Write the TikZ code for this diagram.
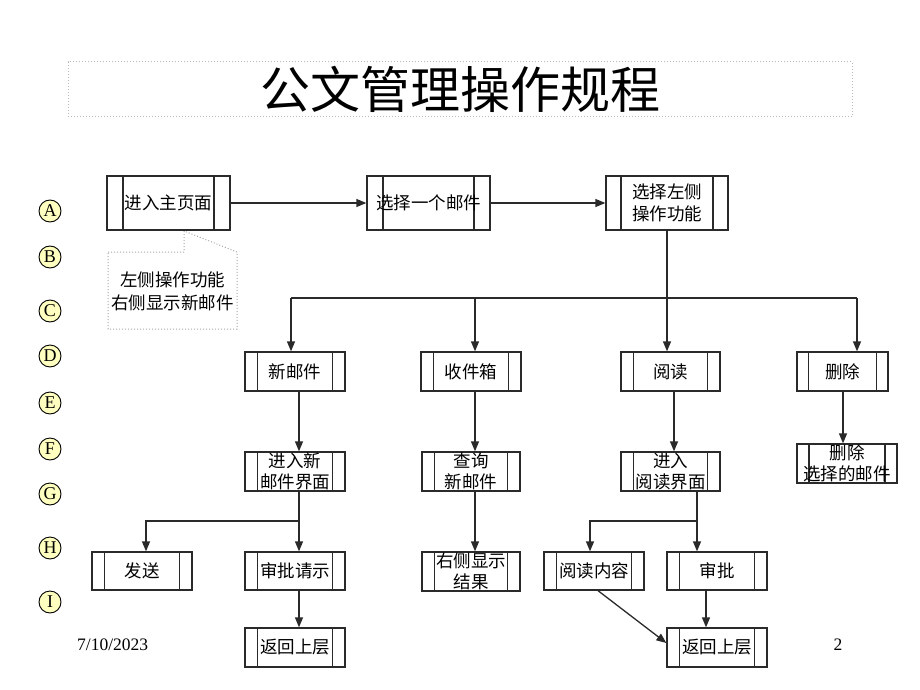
\documentclass[tikz,border=0pt]{standalone}
\usepackage{fontspec}
\setmainfont{Liberation Serif}
\newfontfamily\cjk{Noto Sans CJK SC}
\usetikzlibrary{arrows.meta,calc}
\definecolor{linec}{HTML}{2A2A2A}
\definecolor{circfill}{HTML}{FFFFBF}
\newlength{\barlen}
\tikzset{
  bar/.code={\setlength{\barlen}{#1}},
  bar=12.5pt,
  proc/.style={draw=linec, line width=1.3pt, fill=white, minimum width=100pt,
    minimum height=39pt, inner sep=0pt, align=center,
    font=\cjk\fontsize{17.5}{21.5}\selectfont,
    path picture={\draw[linec, line width=1.3pt]
      ([xshift=\barlen]path picture bounding box.south west) -- ([xshift=\barlen]path picture bounding box.north west)
      ([xshift=-\barlen]path picture bounding box.south east) -- ([xshift=-\barlen]path picture bounding box.north east);}},
  conn/.style={draw=linec, line width=1.3pt},
  arr/.style={conn, -{Triangle[length=10pt,width=8pt]}},
  letter/.style={circle, draw=black, line width=0.9pt, fill=circfill, minimum size=22pt,
    inner sep=0pt, font=\fontsize{18}{18}\selectfont},
}
\begin{document}
\begin{tikzpicture}[x=1pt,y=-1pt]
\useasboundingbox (0,0) rectangle (920,690);

% title
\node[draw=gray!55, dotted, line width=1pt, minimum width=784pt, minimum height=55pt,
      inner sep=0pt, font=\cjk\fontsize{50}{50}\selectfont] (title) at (460,89.5) {公文管理操作规程};

% row letters
\node[letter] (lA) at (50,211) {A};
\node[letter] (lB) at (50,257) {B};
\node[letter] (lC) at (50,311) {C};
\node[letter] (lD) at (50,356) {D};
\node[letter] (lE) at (50,403) {E};
\node[letter] (lF) at (50,449) {F};
\node[letter] (lG) at (50,494) {G};
\node[letter] (lH) at (50,548) {H};
\node[letter] (lI) at (50,602) {I};

% top row
\node[proc, minimum width=123pt, minimum height=54pt, bar=16pt] (n1) at (168.5,203) {进入主页面};
\node[proc, minimum width=123pt, minimum height=54pt, bar=16pt] (n2) at (428.5,203) {选择一个邮件};
\node[proc, minimum width=122pt, minimum height=54pt, bar=15pt] (n3) at (667,203) {选择左侧\\操作功能};

% callout
\node[font=\cjk\fontsize{17.5}{23}\selectfont, align=center, inner sep=0pt] (note) at (172.5,291) {左侧操作功能\\右侧显示新邮件};
\draw[gray!70, dotted, line width=1pt] (108,252) -- (184,252) -- (184,231) -- (237,252) -- (237,329) -- (108,329) -- cycle;

% row D
\node[proc] (d1) at (295,371.5) {新邮件};
\node[proc] (d2) at (471,371.5) {收件箱};
\node[proc, minimum width=99pt] (d3) at (670.5,371.5) {阅读};
\node[proc, minimum width=91pt, bar=11.5pt] (d4) at (842.5,371.5) {删除};

% row F
\node[proc] (f1) at (295,471.5) {进入新\\邮件界面};
\node[proc, minimum width=98pt] (f2) at (471,471.5) {查询\\新邮件};
\node[proc, minimum width=99pt] (f3) at (670.5,471.5) {进入\\阅读界面};
\node[proc, bar=12pt] (f4) at (847,463.5) {删除\\选择的邮件};

% row H
\node[proc, minimum height=38pt] (h1) at (142,571) {发送};
\node[proc, minimum height=38pt] (h2) at (295,571) {审批请示};
\node[proc, minimum width=98pt] (h3) at (471,571.5) {右侧显示\\结果};
\node[proc, minimum height=38pt] (h4) at (594,571) {阅读内容};
\node[proc, minimum height=38pt] (h5) at (717,571) {审批};

% row I
\node[proc] (i1) at (295,647.5) {返回上层};
\node[proc] (i2) at (717,647.5) {返回上层};

% footer
\node[anchor=west, inner sep=0pt, font=\fontsize{17.5}{20}\selectfont] (date) at (77,645) {7/10/2023};
\node[inner sep=0pt, font=\fontsize{17.5}{20}\selectfont] (page) at (838,645) {2};

% connectors top
\draw[arr] (n1.east) -- (n2.west);
\draw[arr] (n2.east) -- (n3.west);

% bus from n3
\coordinate (bL) at (291,298);
\coordinate (bB) at (475,298);
\coordinate (bA) at (667,298);
\coordinate (bR) at (857,298);
\draw[conn] (n3.south) -- (bA);
\draw[conn] (bL) -- (bR);
\draw[arr] (bL) -- (bL |- d1.north);
\draw[arr] (bB) -- (bB |- d2.north);
\draw[arr] (bA) -- (bA |- d3.north);
\draw[arr] (bR) -- (bR |- d4.north);

% D -> F
\draw[arr] ([xshift=4]d1.south) -- ([xshift=4]f1.north);
\draw[arr] ([xshift=4]d2.south) -- ([xshift=4]f2.north);
\draw[arr] ([xshift=3.5]d3.south) -- ([xshift=3.5]f3.north);
\draw[arr] ([xshift=0.5]d4.south) -- ([xshift=0.5]d4.south |- f4.north);

% F -> H
\coordinate (g1) at (299,521);
\coordinate (g0) at (146,521);
\draw[arr] (f1.south -| g1) -- (g1 |- h2.north);
\draw[arr] (g1) -- (g0) -- (g0 |- h1.north);
\draw[arr] ([xshift=4]f2.south) -- ([xshift=4]h3.north);
\coordinate (k1) at (697,521);
\coordinate (k0) at (590,521);
\draw[arr] (f3.south -| k1) -- (k1 |- h5.north);
\draw[arr] (k1) -- (k0) -- (k0 |- h4.north);

% H -> I
\draw[arr] ([xshift=4]h2.south) -- ([xshift=4]i1.north);
\draw[arr] ([xshift=-11]h5.south) -- ([xshift=-11]i2.north);
\draw[arr] ([xshift=4]h4.south) -- ($(i2.west)+(0,-4.5)$);
\end{tikzpicture}
\end{document}
